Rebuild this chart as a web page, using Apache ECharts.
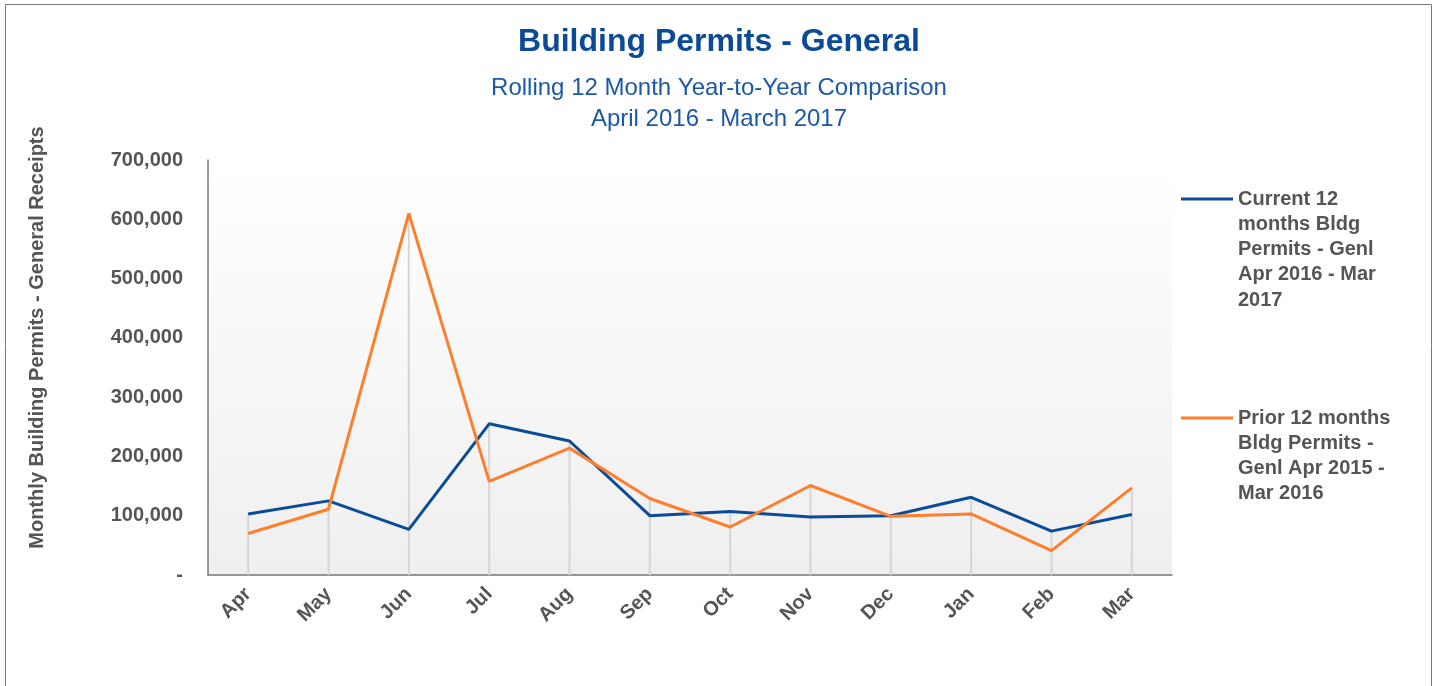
<!DOCTYPE html>
<html><head><meta charset="utf-8">
<script src="https://cdn.jsdelivr.net/npm/echarts@6/dist/echarts.min.js"></script>
<style>html,body{margin:0;padding:0;background:#fff}#c{width:1438px;height:686px}</style>
</head><body><div id="c"></div>
<script>
const categories = ['Apr','May','Jun','Jul','Aug','Sep','Oct','Nov','Dec','Jan','Feb','Mar'];
const currentValues = [103000,125000,77000,255000,226000,100000,107000,98000,100000,131000,74000,102000];
const priorValues = [70000,111000,610000,158000,214000,129000,81000,151000,99000,103000,41000,147000];
const seriesNames = ['Current 12\nmonths Bldg\nPermits - Genl\nApr 2016 - Mar\n2017','Prior 12 months\nBldg Permits -\nGenl Apr 2015 -\nMar 2016'];
const yTicks = [0,100000,200000,300000,400000,500000,600000,700000];
const dropValues = categories.map((_, i) => Math.max(currentValues[i], priorValues[i]));

const FONT = "'Liberation Sans', Arial, sans-serif";
const LH = 25.3;
const chart = echarts.init(document.getElementById('c'));
const legendText = {fontFamily: FONT, fontWeight: 'bold', fontSize: 20, color: '#555', lineHeight: LH};
// pad text above so that the first line is vertically centred on the legend icon
const padAbove = name => '\n'.repeat(name.split('\n').length - 1) + name;
const legendTop = (name, iconY) => iconY - (2 * name.split('\n').length - 1) * LH / 2;
chart.setOption({
  animation: false,
  title: {
    left: 'center', top: 21,
    text: 'Building Permits - General',
    subtext: 'Rolling 12 Month Year-to-Year Comparison\nApril 2016 - March 2017',
    itemGap: 14.5,
    textStyle: {fontFamily: FONT, fontWeight: 'bold', fontSize: 32, color: '#0b4a96'},
    subtextStyle: {fontFamily: FONT, fontSize: 24, color: '#1d58a8', lineHeight: 31}
  },
  graphic: [{type: 'rect', shape: {x: 5.5, y: 4.5, width: 1426, height: 700}, style: {fill: 'none', stroke: '#777', lineWidth: 1}, silent: true}],
  legend: [
    {orient: 'vertical', left: 1181, top: legendTop(seriesNames[0], 199), padding: 0, icon: 'rect', itemWidth: 52, itemHeight: 3,
     data: [seriesNames[0]], formatter: padAbove, textStyle: legendText},
    {orient: 'vertical', left: 1181, top: legendTop(seriesNames[1], 418), padding: 0, icon: 'rect', itemWidth: 52, itemHeight: 3,
     data: [seriesNames[1]], formatter: padAbove, textStyle: legendText}
  ],
  grid: {left: 208, top: 160, right: 266, bottom: 111, show: true, borderWidth: 0,
    backgroundColor: {type: 'linear', x: 0, y: 0, x2: 0, y2: 1, colorStops: [{offset: 0, color: '#ffffff'}, {offset: 1, color: '#efefef'}]}},
  xAxis: {
    type: 'category', data: categories, boundaryGap: true,
    axisLine: {lineStyle: {color: '#777', width: 1.5}},
    axisTick: {show: false},
    axisLabel: {rotate: 45, margin: 16, fontFamily: FONT, fontWeight: 'bold', fontSize: 20, color: '#555', interval: 0}
  },
  yAxis: {
    type: 'value', min: 0, max: 700000, interval: 100000,
    name: 'Monthly Building Permits - General Receipts', nameLocation: 'middle', nameGap: 161, nameRotate: 90,
    nameTextStyle: {fontFamily: FONT, fontWeight: 'bold', fontSize: 20, color: '#555', padding: [0, 0, 0, 60]},
    axisLine: {show: true, lineStyle: {color: '#777', width: 1.5}},
    axisTick: {show: false},
    splitLine: {show: false},
    axisLabel: {margin: 25, fontFamily: FONT, fontWeight: 'bold', fontSize: 20, color: '#555',
      formatter: v => yTicks.includes(v) ? (v === 0 ? '-' : v.toLocaleString('en-US')) : ''}
  },
  series: [
    {type: 'bar', name: 'drop', data: dropValues, barWidth: 2, silent: true, z: 1,
     itemStyle: {color: '#d6d6d6'}},
    {type: 'line', name: seriesNames[0], data: currentValues, symbol: 'none', z: 3,
     lineStyle: {color: '#0b4c98', width: 3}, itemStyle: {color: '#0b4c98'}},
    {type: 'line', name: seriesNames[1], data: priorValues, symbol: 'none', z: 4,
     lineStyle: {color: '#fd7e2b', width: 3}, itemStyle: {color: '#fd7e2b'}}
  ]
});
</script></body></html>
